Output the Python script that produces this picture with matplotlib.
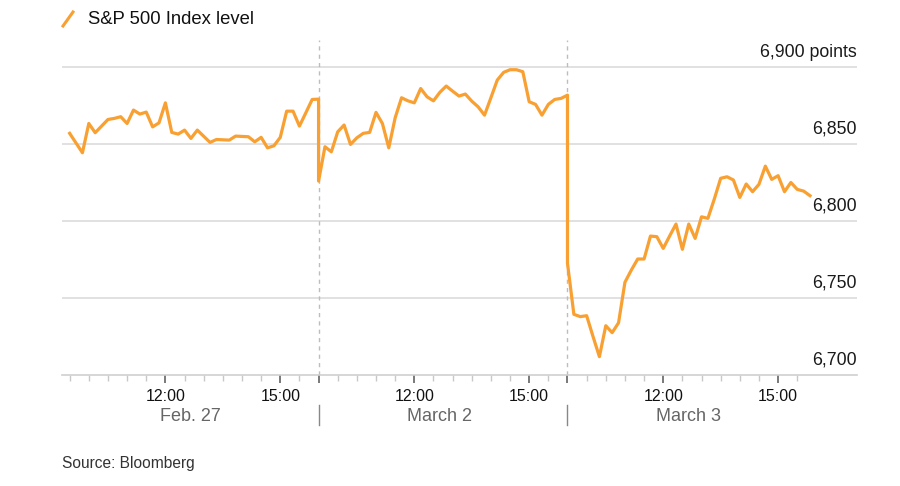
import matplotlib
matplotlib.use("Agg")
import matplotlib.pyplot as plt
import matplotlib.transforms as mtransforms
from matplotlib.lines import Line2D
import numpy as np

plt.rcParams['font.family'] = ['Liberation Sans', 'DejaVu Sans']

# 10-minute closes, S&P 500 Index
days = ["Feb. 27", "March 2", "March 3"]
feb27 = [6856.9, 6850.6, 6844.3, 6863.3, 6857.3, 6861.6, 6865.9, 6866.6, 6867.7, 6863.3,
         6872.0, 6869.4, 6870.7, 6861.1, 6863.7, 6876.7, 6857.5, 6856.4, 6859.0, 6853.6,
         6859.0, 6855.0, 6851.0, 6852.9, 6852.7, 6852.5, 6855.1, 6854.9, 6854.7, 6851.4,
         6854.3, 6847.5, 6848.8, 6854.3, 6871.3, 6871.3, 6861.6, 6870.2, 6878.9, 6879.1]
mar2 = [6825.9, 6848.2, 6844.9, 6857.9, 6862.3, 6849.7, 6854.0, 6856.9, 6857.5, 6870.5,
        6863.3, 6847.5, 6867.0, 6880.0, 6878.0, 6876.7, 6886.0, 6880.6, 6878.0, 6883.5,
        6887.6, 6884.3, 6881.1, 6882.4, 6877.8, 6874.1, 6868.7, 6880.0, 6891.5, 6896.5,
        6898.2, 6898.2, 6896.9, 6877.4, 6875.7, 6868.7, 6875.7, 6878.9, 6879.6, 6881.7]
mar3 = [6772.5, 6739.4, 6737.9, 6738.5, 6725.0, 6711.9, 6732.0, 6727.5, 6733.9, 6760.2,
        6768.1, 6775.3, 6775.3, 6790.2, 6789.8, 6782.2, 6790.2, 6798.0, 6781.6, 6798.0,
        6788.7, 6802.7, 6801.7, 6814.2, 6827.7, 6828.7, 6826.6, 6815.3, 6824.0, 6819.0,
        6823.8, 6835.6, 6827.0, 6829.4, 6819.0, 6825.0, 6820.5, 6819.4, 6816.4]

y_levels = [6700, 6750, 6800, 6850, 6900]
session_hours = 6.5  # 9:30 - 16:00
bar_minutes = 10

# trading-time axis: hours since 9:30 on Feb. 27, sessions joined end to end
x, y = [], []
for d, vals in enumerate([feb27, mar2, mar3]):
    for i, v in enumerate(vals):
        x.append(d * session_hours + i * bar_minutes / 60)
        y.append(v)

orange = '#F9A032'
grid_c = '#dcdcdc'

fig = plt.figure(figsize=(9, 4.86), dpi=100)
ax = fig.add_axes([62 / 900, 111 / 486, 795 / 900, 335 / 486])

ax.plot(x, y, color=orange, lw=2.3, solid_joinstyle='round', zorder=3)

ax.set_xlim(-0.2, 20.56)
ax.set_ylim(6700, 6917.5)

for lv in y_levels[1:]:
    ax.axhline(lv, color=grid_c, lw=1.2, zorder=1)
trans_y = mtransforms.blended_transform_factory(ax.transAxes, ax.transData)
for lv in y_levels:
    lab = f"{lv:,}" + (" points" if lv == y_levels[-1] else "")
    ax.text(0.9995, lv + 4, lab, transform=trans_y, ha='right', va='bottom',
            fontsize=12.8, color='#1a1a1a')

for spine in ['top', 'right', 'left']:
    ax.spines[spine].set_visible(False)
ax.spines['bottom'].set_color('#cfcfcf')
ax.spines['bottom'].set_linewidth(1.2)
ax.set_yticks([])

# day boundaries
for d in range(1, len(days)):
    ax.axvline(d * session_hours, color='#bdbdbd', lw=1, ls=(0, (3, 3)), zorder=2)

# ticks: 12:00 and 15:00 labelled, half hours minor
major, major_lab, minor = [], [], []
for d in range(len(days)):
    base = d * session_hours
    major += [base + 2.5, base + 5.5]
    major_lab += ["12:00", "15:00"]
    if d > 0:
        major.append(base)
        major_lab.append("")
    last = 6.5 if d < 2 else 6.0
    for k in np.arange(0, last + 0.01, 0.5):
        if k not in (2.5, 5.5) and not (k == 0 and d > 0):
            minor.append(base + k)
ax.set_xticks(major)
ax.set_xticklabels(major_lab, fontsize=11.5, color='#111111')
ax.set_xticks(minor, minor=True)
ax.tick_params(axis='x', which='major', length=6, width=1.1, color='#555555', pad=4)
ax.tick_params(axis='x', which='minor', length=4, width=1, color='#c8c8c8')

trans_x = mtransforms.blended_transform_factory(ax.transData, ax.transAxes)
for d, name in enumerate(days):
    ax.text(d * session_hours + session_hours / 2 - 0.1, -0.124, name, transform=trans_x,
            ha='center', va='center', fontsize=13, color='#666666')
    if d > 0:
        ax.plot([d * session_hours] * 2, [-0.09, -0.15], transform=trans_x,
                color='#888888', lw=1, clip_on=False)

# header and footer
fig.add_artist(Line2D([63 / 900, 73 / 900], [1 - 26 / 486, 1 - 12 / 486],
                      color=orange, lw=2.2, transform=fig.transFigure))
fig.text(88 / 900, 1 - 19 / 486, "S&P 500 Index level", fontsize=13.3,
         color='#111111', va='center', ha='left')
fig.text(62 / 900, 1 - 463 / 486, "Source: Bloomberg", fontsize=11.2,
         color='#333333', va='center', ha='left')

fig.savefig("out.png", dpi=100)
